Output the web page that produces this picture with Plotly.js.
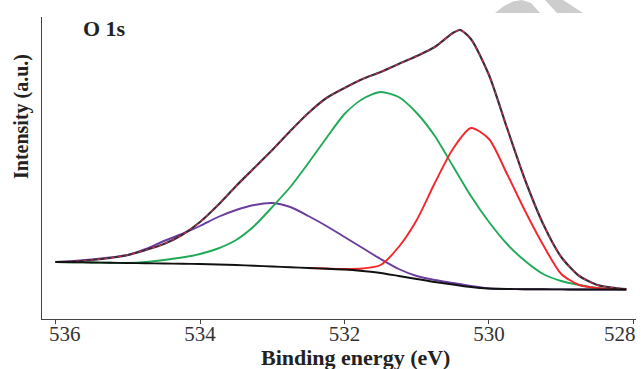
<!DOCTYPE html>
<html>
<head>
<meta charset="utf-8">
<script src="https://cdn.plot.ly/plotly-3.0.1.min.js"></script>
<style>html,body{margin:0;padding:0;background:#fff;}#chart{width:642px;height:369px;}</style>
</head>
<body>
<div id="chart"></div>
<script>
// Binding energy grid (eV) for fitted components
var energy = [536, 535.75, 535.5, 535.25, 535, 534.75, 534.5, 534.25, 534, 533.75, 533.5, 533.25, 533, 532.75, 532.5, 532.25, 532, 531.75, 531.5, 531.25, 531, 530.75, 530.5, 530.25, 530, 529.75, 529.5, 529.25, 529, 528.75, 528.5, 528.25, 528.1];
// Binding energy grid (eV) for the measured spectrum
var energyRaw = [536, 535.75, 535.5, 535.25, 535, 534.75, 534.5, 534.25, 534, 533.75, 533.5, 533.25, 533, 532.75, 532.5, 532.25, 532, 531.75, 531.5, 531.25, 531, 530.75, 530.5, 530.4, 530.25, 530, 529.75, 529.5, 529.25, 529, 528.75, 528.5, 528.25, 528.1];
// Measured O 1s spectrum / fitted envelope (a.u.)
var measured = [57, 57.5, 59, 61, 64, 69, 75, 84, 97, 114, 133, 151, 169, 188, 206, 221, 231, 240, 247, 255, 263, 272, 286, 289, 280, 244, 191, 139, 95, 62, 43, 34, 31, 30];
// Fitted component peaks (a.u.)
var peakHigh = [57, 58, 59.5, 61.5, 64, 70, 78, 85, 93, 102, 109, 114, 116, 112, 103, 93, 82, 71, 60, 50, 43, 39, 36, 33, 30.5, 30, 29.8, 29.7, 29.6, 29.5, 29.5, 29.5, 29.5];
var peakMid = [57, 56.8, 56.5, 56.2, 56, 57, 59, 61.5, 65, 70.5, 79, 93, 112, 132, 156, 181, 205, 220, 227, 222, 206, 183, 153, 123, 97, 75, 58, 45, 38, 34, 31, 30, 29.5];
var peakLow = [null, null, null, null, null, null, null, null, null, null, null, null, null, null, 51, 50.5, 50, 50.5, 54, 72, 99, 136, 170, 191, 180, 145, 108, 74, 45, 34, 31, 30, 29.5];
// Background
var background = [57, 56.8, 56.5, 56.2, 56, 55.7, 55.5, 55.2, 55, 54.5, 54, 53.3, 52.5, 51.7, 51, 50.2, 49.5, 48, 46, 43, 40, 37, 34.5, 32, 30.5, 30, 29.8, 29.7, 29.6, 29.5, 29.5, 29.5, 29.5];
// Axis ticks
var tickValues = [536, 534, 532, 530, 528];
var tickLabels = ['536', '534', '532', '530', '528'];

function tr(xs, ys, color, width, dash) {
  return {x: xs, y: ys, type: 'scatter', mode: 'lines', connectgaps: false,
    line: {color: color, width: width, dash: dash || 'solid', shape: 'spline', smoothing: 0.7},
    hoverinfo: 'skip', showlegend: false};
}

var data = [
  tr(energy, peakHigh, '#6a3c9e', 1.9),
  tr(energy, peakMid, '#1faa58', 1.9),
  tr(energy, peakLow, '#f2262b', 1.9),
  tr(energyRaw, measured, '#3a2c3c', 2.2),
  tr(energyRaw, measured, '#d0304a', 1.2, '3px,4px'),
  tr(energy, background, '#111111', 1.9)
];

var serif = 'Liberation Serif, Times New Roman, serif';
var tickFont = {family: serif, size: 21, color: '#333'};
var last = tickLabels.length - 1;
// end labels sit inside the axis span in the original: drawn as shifted labels
var tickText = tickLabels.map(function (t, i) { return (i === 0 || i === last) ? '' : t; });
var labelY = -(334 - 319) / 302;
var endLabels = [
  {text: tickLabels[0], xref: 'x', yref: 'paper', x: tickValues[0], y: labelY, xshift: 9,
   xanchor: 'center', yanchor: 'middle', showarrow: false, font: tickFont},
  {text: tickLabels[last], xref: 'x', yref: 'paper', x: tickValues[last], y: labelY, xshift: -13,
   xanchor: 'center', yanchor: 'middle', showarrow: false, font: tickFont}
];

// faint watermark fragments at the top edge (pixel -> paper)
function px(x, y) { return ((x - 42) / 594).toFixed(4) + ',' + ((319 - y) / 302).toFixed(4); }
var wm1 = 'M' + px(495, 13) + ' L' + px(504, 6) + ' L' + px(513, 1.5) + ' L' + px(522, 0) + ' L' + px(531, 3) + ' L' + px(540, 13) + ' Z';
var wm2 = 'M' + px(545, 0) + ' L' + px(563, 0) + ' L' + px(583, 13) + ' L' + px(557, 13) + ' Z';

var layout = {
  width: 642, height: 369,
  margin: {l: 42, r: 6, t: 17, b: 50},
  paper_bgcolor: '#ffffff', plot_bgcolor: '#ffffff',
  showlegend: false,
  xaxis: {
    range: [536.187, 527.965], showgrid: false, zeroline: false,
    showline: true, linecolor: '#444', linewidth: 1.4, mirror: false,
    ticks: 'outside', ticklen: 4, tickcolor: '#444', tickwidth: 1,
    tickmode: 'array', tickvals: tickValues, ticktext: tickText,
    ticklabelstandoff: -9,
    tickfont: tickFont,
    title: {text: ''}
  },
  yaxis: {
    range: [0, 302], showgrid: false, zeroline: false,
    showline: true, linecolor: '#444', linewidth: 1.4,
    ticks: '', showticklabels: false, title: {text: ''}
  },
  shapes: [
    {type: 'path', xref: 'paper', yref: 'paper', path: wm1, fillcolor: '#cdcdcd', line: {width: 0}, layer: 'below'},
    {type: 'path', xref: 'paper', yref: 'paper', path: wm2, fillcolor: '#cdcdcd', line: {width: 0}, layer: 'below'}
  ],
  annotations: endLabels.concat([
    {text: '<b>Binding energy (eV)</b>', xref: 'paper', yref: 'paper',
     x: (355 - 42) / 594, y: -(357 - 319) / 302, xanchor: 'center', yanchor: 'middle',
     showarrow: false, font: {family: serif, size: 22, color: '#222'}},
    {text: '<b>Intensity (a.u.)</b>', xref: 'paper', yref: 'paper', textangle: -90,
     x: (21 - 42) / 594, y: (319 - 117) / 302, xanchor: 'center', yanchor: 'middle',
     showarrow: false, font: {family: serif, size: 20, color: '#222'}},
    {text: '<b>O 1s</b>', xref: 'paper', yref: 'paper',
     x: (81 - 42) / 594, y: (319 - 29) / 302, xanchor: 'left', yanchor: 'middle',
     showarrow: false, font: {family: serif, size: 22, color: '#222'}}
  ])
};

Plotly.newPlot('chart', data, layout, {staticPlot: true, displayModeBar: false});
</script>
</body>
</html>
